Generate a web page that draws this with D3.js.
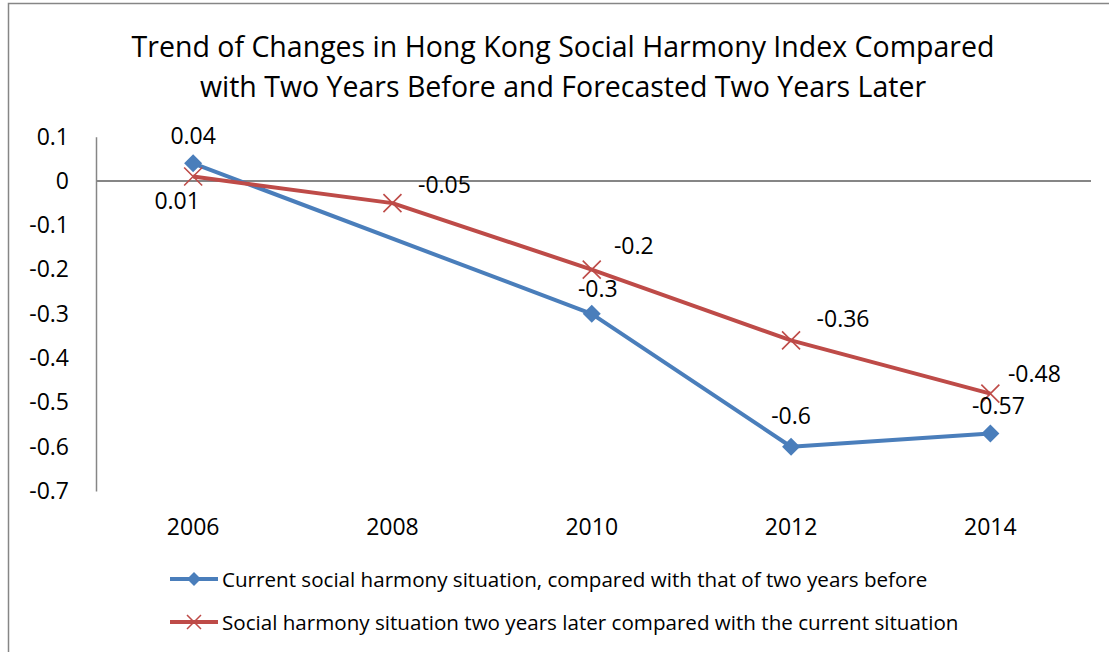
<!DOCTYPE html>
<html><head><meta charset="utf-8">
<script src="https://cdn.jsdelivr.net/npm/d3@7"></script>
<style>body{margin:0;background:#fff}svg{display:block}text{font-family:"Open Sans",sans-serif;fill:#000}</style>
</head><body><svg id="c" width="1109" height="652"></svg>
<script>
const years = ["2006","2008","2010","2012","2014"];
const currentVals = [0.04, null, -0.3, -0.6, -0.57];
const forecastVals = [0.01, -0.05, -0.2, -0.36, -0.48];
const yTicks = [0.1, 0, -0.1, -0.2, -0.3, -0.4, -0.5, -0.6, -0.7];
const titleLines = ["Trend of Changes in Hong Kong Social Harmony Index Compared","with Two Years Before and Forecasted Two Years Later"];
const seriesNames = ["Current social harmony situation, compared with that of two years before","Social harmony situation two years later compared with the current situation"];
// label offsets (style)
const currentLabelOff = [[0,-19],null,[6,-17],[0,-23],[8,-19]];
const forecastLabelOff = [[-16,32],[52,-10],[42,-16],[52,-13],[44,-12]];

const svg = d3.select("#c");
const blue = "#4A7EBB", red = "#BE4B48", axisC = "#868686";
svg.append("path").attr("d","M8.5,652 V3.5 H1109").attr("fill","none").attr("stroke",axisC).attr("stroke-width",1.5);

const x = d3.scaleBand().domain(years).range([93.5,1090]);
const y = d3.scaleLinear().domain([-0.7,0.1]).range([491,136.7]);
const cx = d => x(d)+x.bandwidth()/2;
const fmt = v => String(v).replace("\u2212","-");

// title
svg.append("text").attr("x",563).attr("text-anchor","middle").attr("font-size",28.5)
  .selectAll("tspan").data(titleLines).join("tspan").attr("x",563).attr("y",(d,i)=>57+i*40).text(d=>d);

// y axis
const ya = svg.append("g").attr("transform","translate(96,0)")
  .call(d3.axisLeft(y).tickValues(yTicks).tickSize(0).tickPadding(27).tickFormat(d=>d===0?"0":d.toFixed(1)));
ya.select(".domain").attr("stroke",axisC).attr("stroke-width",1.5);
ya.selectAll("text").attr("font-size",23).style("font-family","'Open Sans',sans-serif").attr("fill","#000");

// zero line axis
const xa = svg.append("g").attr("transform",`translate(0,${y(0)})`)
  .call(d3.axisBottom(x).tickSize(0).tickFormat(""));
xa.select(".domain").attr("stroke",axisC).attr("stroke-width",2).attr("d",`M96,0H1091`);
// category labels
svg.append("g").selectAll("text").data(years).join("text")
  .attr("x",d=>cx(d)).attr("y",535).attr("text-anchor","middle").attr("font-size",23).text(d=>d);

const line = d3.line().x(d=>cx(d.k)).y(d=>y(d.v));
const cur = years.map((k,i)=>({k,v:currentVals[i],o:currentLabelOff[i]})).filter(d=>d.v!==null);
const fc = years.map((k,i)=>({k,v:forecastVals[i],o:forecastLabelOff[i]}));

svg.append("path").datum(cur).attr("d",line).attr("fill","none").attr("stroke",blue).attr("stroke-width",4).attr("stroke-linejoin","round");
const diamond = s => `M0,${-s}L${s},0L0,${s}L${-s},0Z`;
svg.append("g").selectAll("path").data(cur).join("path")
  .attr("transform",d=>`translate(${cx(d.k)},${y(d.v)})`).attr("d",diamond(9)).attr("fill",blue);

svg.append("path").datum(fc).attr("d",line).attr("fill","none").attr("stroke",red).attr("stroke-width",4).attr("stroke-linejoin","round");
const xmark = s => `M${-s},${-s}L${s},${s}M${-s},${s}L${s},${-s}`;
svg.append("g").selectAll("path").data(fc).join("path")
  .attr("transform",d=>`translate(${cx(d.k)},${y(d.v)})`).attr("d",xmark(9)).attr("stroke",red).attr("stroke-width",1.6).attr("fill","none");

// labels
svg.append("g").selectAll("text").data(cur).join("text")
  .attr("x",d=>cx(d.k)+d.o[0]).attr("y",d=>y(d.v)+d.o[1]).attr("text-anchor","middle").attr("font-size",23).text(d=>fmt(d.v));
svg.append("g").selectAll("text").data(fc).join("text")
  .attr("x",d=>cx(d.k)+d.o[0]).attr("y",d=>y(d.v)+d.o[1]).attr("text-anchor","middle").attr("font-size",23).text(d=>fmt(d.v));

// legend
const lg = svg.append("g");
const legData = [{n:seriesNames[0],c:blue,m:"d"},{n:seriesNames[1],c:red,m:"x"}];
legData.forEach((d,i)=>{
  const yy = 579+i*43;
  lg.append("line").attr("x1",170).attr("x2",218).attr("y1",yy).attr("y2",yy).attr("stroke",d.c).attr("stroke-width",4);
  lg.append("path").attr("transform",`translate(194,${yy})`).attr("d",d.m==="d"?diamond(7):xmark(7))
    .attr("fill",d.m==="d"?d.c:"none").attr("stroke",d.m==="d"?"none":d.c).attr("stroke-width",1.5);
  lg.append("text").attr("x",222).attr("y",yy+8).attr("font-size",20.6).text(d.n);
});
</script></body></html>
